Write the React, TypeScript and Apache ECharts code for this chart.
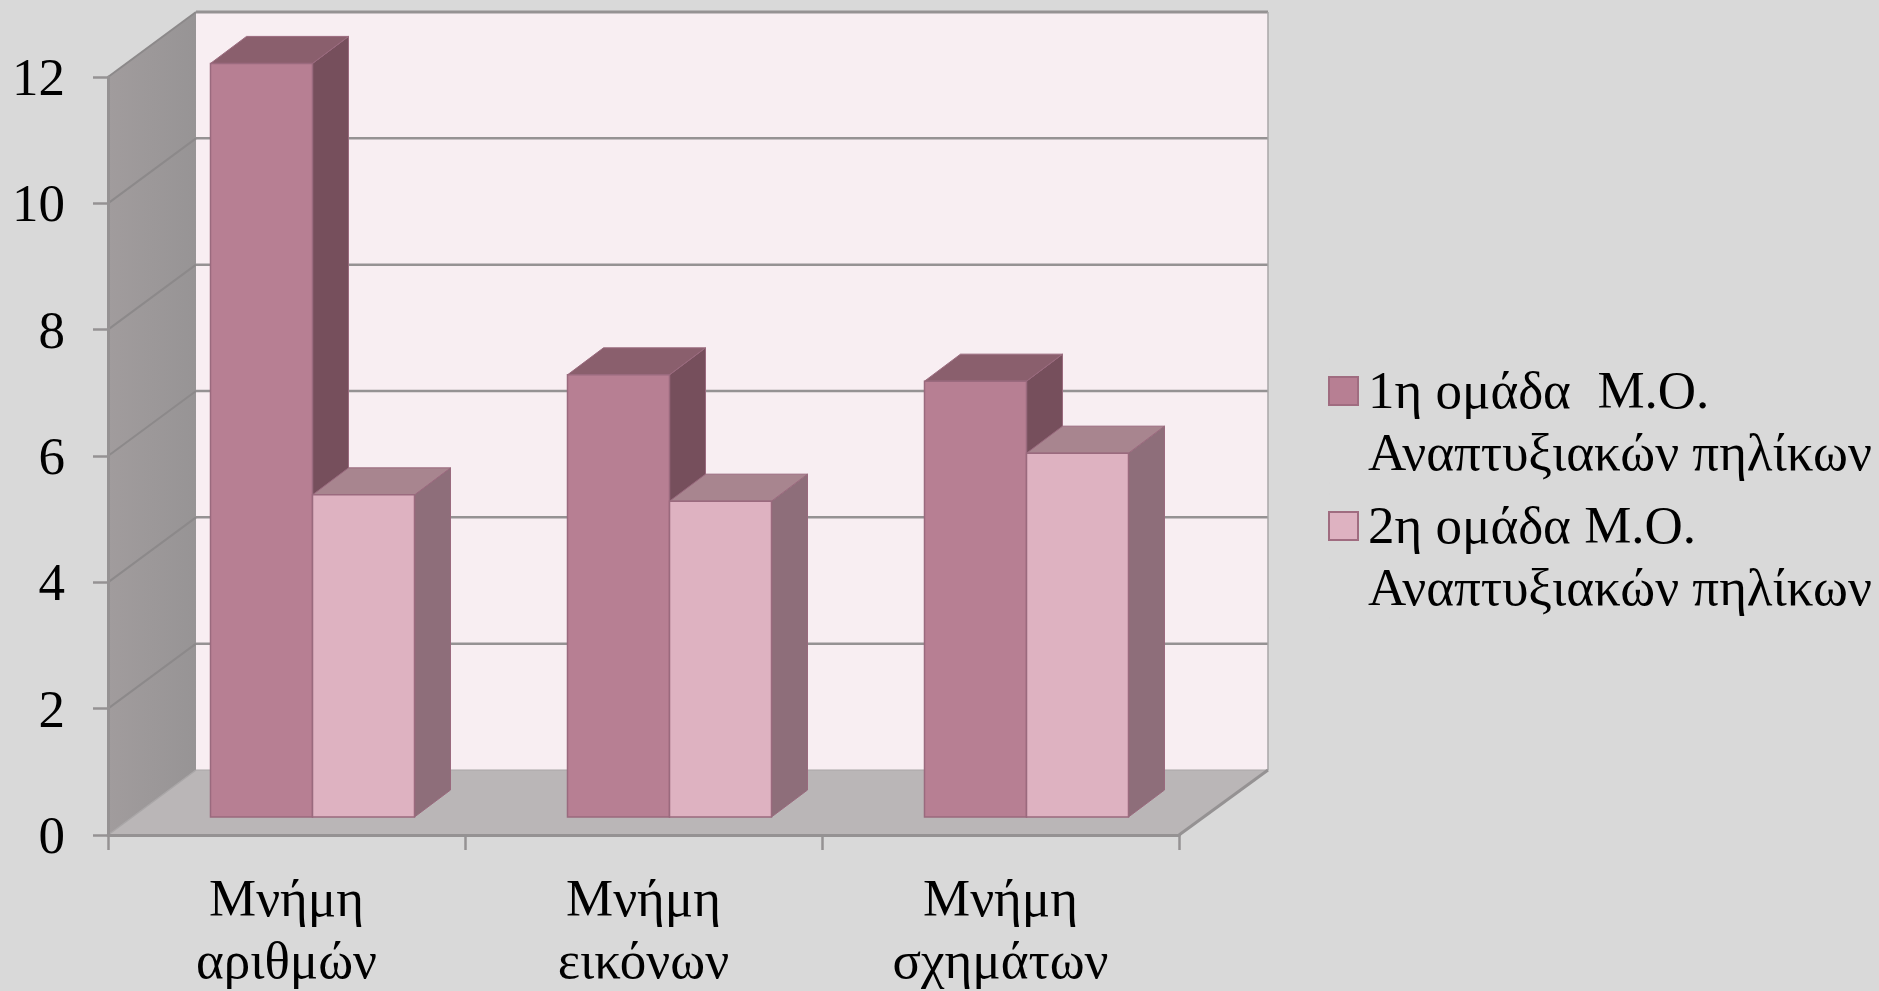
import React, { useEffect, useRef } from "react";
import * as echarts from "echarts";

const categories = ["Μνήμη\nαριθμών", "Μνήμη\nεικόνων", "Μνήμη\nσχημάτων"];
const group1Name = "1η ομάδα  Μ.Ο.\nΑναπτυξιακών πηλίκων";
const group2Name = "2η ομάδα Μ.Ο.\nΑναπτυξιακών πηλίκων";
const group1Values = [11.93, 7.0, 6.9];
const group2Values = [5.1, 5.0, 5.76];
const yTicks = [0, 2, 4, 6, 8, 10, 12];

const FONT = '"Liberation Serif", "Times New Roman", serif';
const FONT_SIZE = 53;
const WALL_DX = 89;
const WALL_DY = -65;
const FACE_DX = 26;
const FACE_DY = -18;
const BAR_DX = 36;
const BAR_DY = -27;
const BAR_W_RATIO = 102 / 357;
const LINE = "#959293";
const LEGEND_ICON = "path://M0 18H29V46H0Z M0 0L0.01 0 M0 124L0.01 124";

const poly = (points: number[][], fill: any, stroke = "none", lineWidth = 0, z2 = 0) => ({
  type: "polygon",
  shape: { points },
  style: { fill, stroke, lineWidth },
  z2,
});
const seg = (a: number[], b: number[], stroke: string, lineWidth: number, z2 = 1) => ({
  type: "line",
  shape: { x1: a[0], y1: a[1], x2: b[0], y2: b[1] },
  style: { stroke, lineWidth },
  z2,
});

const renderWalls = (_: any, api: any) => {
  const n = categories.length;
  const c00 = api.coord([0, 0]);
  const band = api.size([1, 0])[0];
  const x0 = c00[0] - band / 2;
  const x1 = x0 + band * n;
  const yBase = c00[1];
  const yTop = api.coord([0, 12])[1];
  const bx0 = x0 + WALL_DX - 1;
  const bx1 = x1 + WALL_DX;
  const children: any[] = [
    poly(
      [[x0, yBase], [bx0, yBase + WALL_DY], [bx0, yTop + WALL_DY], [x0, yTop]],
      new echarts.graphic.LinearGradient(0, 0, 1, 0, [
        { offset: 0, color: "#a19c9d" },
        { offset: 1, color: "#979495" },
      ]),
    ),
    poly(
      [[bx0, yBase + WALL_DY], [bx1, yBase + WALL_DY], [bx1, yTop + WALL_DY], [bx0, yTop + WALL_DY]],
      "#f8eef2",
    ),
    poly(
      [[x0, yBase], [x1, yBase], [bx1, yBase + WALL_DY], [bx0, yBase + WALL_DY]],
      "#bab6b7",
    ),
  ];
  yTicks.forEach((t) => {
    const y = api.coord([0, t])[1];
    if (t > 0) {
      children.push(seg([x0, y], [bx0, y + WALL_DY], "#8c898a", 2));
      children.push(seg([bx0, y + WALL_DY], [bx1, y + WALL_DY], LINE, t === 12 ? 3 : 2.5));
    }
  });
  children.push(seg([bx1, yBase + WALL_DY], [bx1, yTop + WALL_DY], "#a9a6a7", 1.5));
  children.push(seg([bx0, yBase + WALL_DY], [bx1, yBase + WALL_DY], "#a9a6a7", 1));
  children.push(seg([x1, yBase], [bx1, yBase + WALL_DY], LINE, 3));
  children.push(seg([x0, yBase], [bx0, yBase + WALL_DY], "#a9a6a7", 1.5));
  return { type: "group", children };
};

const barRenderer =
  (slot: number, front: string, side: string, top: string) => (_: any, api: any) => {
    const c = api.coord([api.value(0), api.value(1)]);
    const base = api.coord([api.value(0), 0]);
    const band = api.size([1, 0])[0];
    const w = band * BAR_W_RATIO;
    const xL = c[0] + FACE_DX + (slot - 1) * w;
    const xR = xL + w;
    const yT = c[1] + FACE_DY;
    const yB = base[1] + FACE_DY;
    const edge = "#9a6a7e";
    return {
      type: "group",
      children: [
        poly([[xR, yB], [xR + BAR_DX, yB + BAR_DY], [xR + BAR_DX, yT + BAR_DY], [xR, yT]], side, edge, 1),
        poly([[xL, yT], [xR, yT], [xR + BAR_DX, yT + BAR_DY], [xL + BAR_DX, yT + BAR_DY]], top, edge, 1),
        poly([[xL, yB], [xR, yB], [xR, yT], [xL, yT]], front, edge, 1.5),
      ],
    };
  };

export default function App() {
  const ref = useRef<HTMLDivElement>(null);
  useEffect(() => {
    const chart = echarts.init(ref.current!, undefined, { renderer: "svg" });
    chart.setOption({
      animation: false,
      backgroundColor: "#d9d9d9",
      grid: { left: 108, top: 77, width: 1071, height: 758, containLabel: false, outerBoundsMode: "none" },
      legend: {
        left: 1323,
        top: 353,
        orient: "vertical",
        align: "left",
        itemWidth: 29,
        itemHeight: 124,
        itemGap: 9,
        icon: LEGEND_ICON,
        selectedMode: false,
        textStyle: { fontFamily: FONT, fontSize: FONT_SIZE, lineHeight: 62, color: "#000000", padding: [0, 0, 0, 5] },
        data: [
          { name: group1Name, itemStyle: { color: "#b77f93", borderColor: "#a06c80", borderWidth: 2 } },
          { name: group2Name, itemStyle: { color: "#deb2c1", borderColor: "#a06c80", borderWidth: 2 } },
        ],
      },
      xAxis: {
        type: "category",
        z: 5,
        data: categories,
        boundaryGap: true,
        axisLine: { show: true, lineStyle: { color: LINE, width: 3 } },
        axisTick: { show: true, alignWithLabel: false, length: 15, lineStyle: { color: LINE, width: 2.5 } },
        axisLabel: {
          fontFamily: FONT,
          fontSize: FONT_SIZE,
          lineHeight: 62,
          color: "#000000",
          margin: 32,
          interval: 0,
        },
      },
      yAxis: {
        type: "value",
        z: 5,
        min: 0,
        max: 12,
        interval: 2,
        splitLine: { show: false },
        axisLine: { show: true, lineStyle: { color: LINE, width: 3 } },
        axisTick: { show: true, length: 15, lineStyle: { color: LINE, width: 2.5 } },
        axisLabel: { fontFamily: FONT, fontSize: FONT_SIZE, color: "#000000", margin: 43 },
      },
      series: [
        {
          name: "walls",
          type: "custom",
          z: 1,
          silent: true,
          clip: false,
          renderItem: renderWalls,
          data: [[0, 0]],
          encode: { x: 0, y: 1 },
        },
        {
          name: group1Name,
          type: "custom",
          z: 2,
          clip: false,
          itemStyle: { color: "#b77f93" },
          renderItem: barRenderer(0, "#b77f93", "#764f5c", "#8a5f6d"),
          data: group1Values.map((v, i) => [i, v]),
          encode: { x: 0, y: 1 },
        },
        {
          name: group2Name,
          type: "custom",
          z: 3,
          clip: false,
          itemStyle: { color: "#deb2c1" },
          renderItem: barRenderer(1, "#deb2c1", "#8e6e7a", "#a8858f"),
          data: group2Values.map((v, i) => [i, v]),
          encode: { x: 0, y: 1 },
        },
      ],
    });
    return () => chart.dispose();
  }, []);
  return (
    <div
      ref={ref}
      style={{ position: "fixed", left: 0, top: 0, width: 1879, height: 991 }}
    />
  );
}
